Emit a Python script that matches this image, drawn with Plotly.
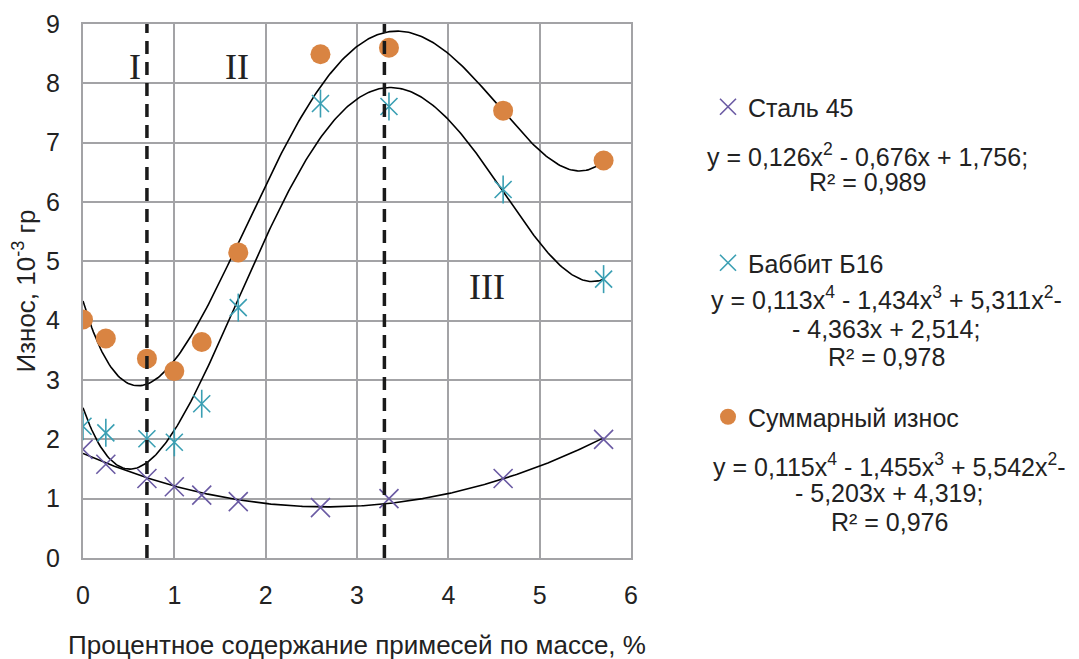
import numpy as np
import plotly.graph_objects as go

# concentration of impurities, mass %
x_vals = [0, 0.25, 0.7, 1.0, 1.3, 1.7, 2.6, 3.35, 4.6, 5.7]
steel_45 = [1.83, 1.58, 1.34, 1.2, 1.06, 0.95, 0.85, 1.0, 1.34, 2.0]
babbit_b16 = [2.22, 2.11, 2.01, 1.95, 2.6, 4.22, 7.66, 7.61, 6.21, 4.7]
total_wear = [4.02, 3.7, 3.36, 3.15, 3.64, 5.15, 8.49, 8.6, 7.54, 6.7]

zone_bounds = [0.7, 3.3]
zone_labels = ["I", "II", "III"]
zone_label_x = [0.57, 1.69, 4.42]
zone_label_y = [8.28, 8.28, 4.57]

# trendline equations, one list of lines per series
eq_steel = ["y = 0,126x<sup>2</sup> - 0,676x + 1,756;", "R² = 0,989"]
eq_babbit = ["y = 0,113x<sup>4</sup> - 1,434x<sup>3</sup> + 5,311x<sup>2</sup>-",
             "- 4,363x + 2,514;", "R² = 0,978"]
eq_total = ["y = 0,115x<sup>4</sup> - 1,455x<sup>3</sup> + 5,542x<sup>2</sup>-",
            "- 5,203x + 4,319;", "R² = 0,976"]

c_steel = "#6A5AA3"
c_babbit = "#3A9FB3"
c_total = "#D98442"
grid = "#A3A3A6"
FONT = "Liberation Sans"

# pixel -> paper helpers (plot area on screen 83..631 x 24..558)
def px(p):
    return (p - 83) / 548.0

def py(p):
    return (558 - p) / 534.0

fig = go.Figure()

# polynomial trendlines, as Excel computes them
xs = np.linspace(min(x_vals), max(x_vals), 300)
for ys, deg in [(steel_45, 2), (babbit_b16, 4), (total_wear, 4)]:
    p = np.polyfit(x_vals, ys, deg)
    fig.add_trace(go.Scatter(x=xs, y=np.polyval(p, xs), mode="lines",
                             line=dict(color="black", width=1.6),
                             showlegend=False, hoverinfo="skip"))

fig.add_trace(go.Scatter(x=x_vals, y=steel_45, mode="markers", name="Сталь 45",
                         marker=dict(symbol="x-thin-open", size=19, color=c_steel,
                                     line=dict(color=c_steel, width=1.6)),
                         legend="legend"))
# Excel "star" marker: an x with a vertical stroke
fig.add_trace(go.Scatter(x=x_vals, y=babbit_b16, mode="markers", name="Баббит Б16",
                         marker=dict(symbol="x-thin-open", size=17, color=c_babbit,
                                     line=dict(color=c_babbit, width=1.6)),
                         legend="legend2", legendgroup="b16"))
fig.add_trace(go.Scatter(x=x_vals, y=babbit_b16, mode="markers", name="Баббит Б16",
                         marker=dict(symbol="line-ns-open", size=20, color=c_babbit,
                                     line=dict(color=c_babbit, width=1.6)),
                         legend="legend2", legendgroup="b16", showlegend=False))
fig.add_trace(go.Scatter(x=x_vals, y=total_wear, mode="markers", name="Суммарный износ",
                         marker=dict(symbol="circle", size=20, color=c_total),
                         legend="legend3"))

for xb in zone_bounds:
    fig.add_shape(type="line", x0=xb, x1=xb, y0=0, y1=9, xref="x", yref="y",
                  line=dict(color="#1a1a1a", width=3.5, dash="13px,8px"))

for t, lx, ly in zip(zone_labels, zone_label_x, zone_label_y):
    fig.add_annotation(x=lx, y=ly, text=t, showarrow=False,
                       font=dict(family="Liberation Serif", size=36, color="#222"))

eq_blocks = [(eq_steel, 867, [155, 182]),
             (eq_babbit, 886, [298, 329, 357]),
             (eq_total, 889, [465, 493, 522])]
for lines, cx, ys_px in eq_blocks:
    for line, ly in zip(lines, ys_px):
        fig.add_annotation(x=px(cx), y=py(ly), xref="paper", yref="paper", text=line,
                           showarrow=False, xanchor="center", yanchor="middle",
                           font=dict(family=FONT, size=25, color="#222"))

leg = dict(font=dict(family=FONT, size=25, color="#222"), xanchor="left", yanchor="middle",
           bgcolor="rgba(0,0,0,0)", itemwidth=30)

fig.update_layout(
    width=1079, height=659,
    # page body adds 8px offset, so plot area lands at 83..631 x 24..558 on screen
    margin=dict(l=75, r=456, t=16, b=109, autoexpand=False),
    plot_bgcolor="white", paper_bgcolor="white",
    font=dict(family=FONT, size=25, color="#222"),
    legend=dict(leg, x=px(708), y=py(107)),
    legend2=dict(leg, x=px(708), y=py(263)),
    legend3=dict(leg, x=px(708), y=py(417)),
    xaxis=dict(range=[0, 6], dtick=1, showgrid=True, gridcolor=grid, gridwidth=2,
               showline=True, linecolor=grid, linewidth=2, mirror=True,
               zeroline=False, ticks="", ticklabelstandoff=14, automargin=False,
               tickfont=dict(size=25),
               title=dict(text="Процентное содержание примесей по массе, %",
                          font=dict(size=26), standoff=28)),
    yaxis=dict(range=[0, 9], dtick=1, showgrid=True, gridcolor=grid, gridwidth=2,
               showline=True, linecolor=grid, linewidth=2, mirror=True,
               zeroline=False, ticks="", ticklabelstandoff=16, automargin=False,
               tickfont=dict(size=25),
               title=dict(text="Износ, 10<sup>-3</sup> гр", font=dict(size=26), standoff=12)),
)

fig.write_html("out.html")
